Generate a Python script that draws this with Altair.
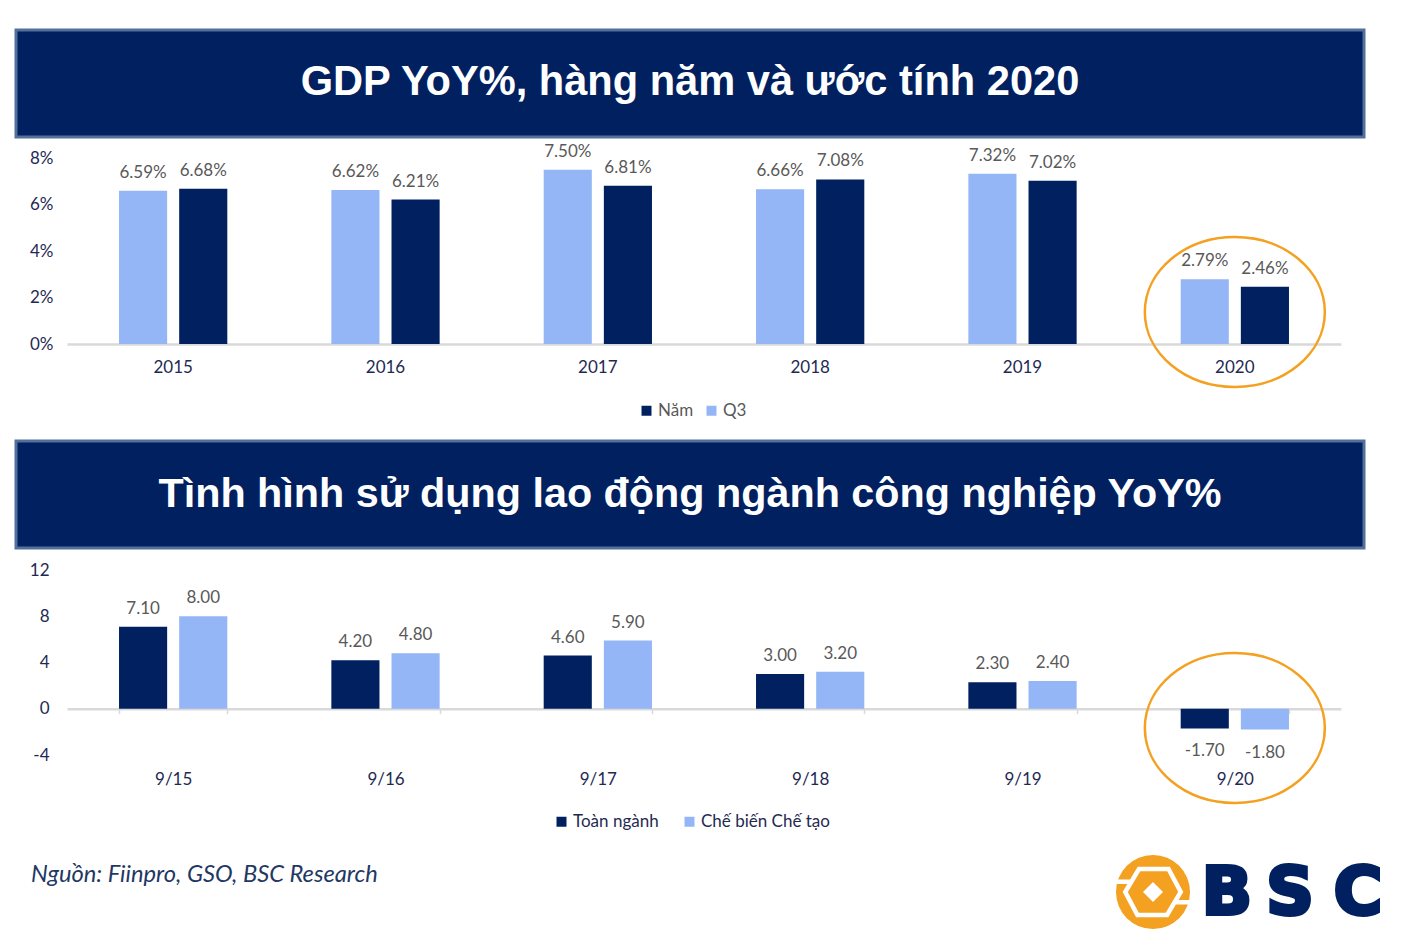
import altair as alt
import pandas as pd

# ---------------- data ----------------
years = ["2015", "2016", "2017", "2018", "2019", "2020"]
gdp_q3 = [6.59, 6.62, 7.50, 6.66, 7.32, 2.79]
gdp_nam = [6.68, 6.21, 6.81, 7.08, 7.02, 2.46]
gdp_legend = ["Năm", "Q3"]
gdp_order = ["Q3", "Năm"]
gdp_ticks = [0, 2, 4, 6, 8]

periods = ["9/15", "9/16", "9/17", "9/18", "9/19", "9/20"]
lab_toan = [7.10, 4.20, 4.60, 3.00, 2.30, -1.70]
lab_chebien = [8.00, 4.80, 5.90, 3.20, 2.40, -1.80]
lab_legend = ["Toàn ngành", "Chế biến Chế tạo"]
lab_ticks = [-4, 0, 4, 8, 12]

title1 = "GDP YoY%, hàng năm và ước tính 2020"
title2 = "Tình hình sử dụng lao động ngành công nghiệp YoY%"
source = "Nguồn: Fiinpro, GSO, BSC Research"
logo_letters = ["B", "S", "C"]

# ---------------- style ----------------
DARK = "#002060"
LIGHT = "#95B6F6"
NAVY_TXT = "#1F2A52"
GREY_TXT = "#595959"
AXIS_GREY = "#D9D9D9"
ORANGE = "#F4A020"
BANNER = "#002060"
BANNER_EDGE = "#52709A"
FONT = "Lato"
TFONT = "Liberation Sans"
FS = 17
W = 1274

ELLIPSE = ("M 1 0 C 1 0.46 0.5523 0.833 0 0.833 C -0.5523 0.833 -1 0.46 -1 0 "
           "C -1 -0.46 -0.5523 -0.833 0 -0.833 C 0.5523 -0.833 1 -0.46 1 0 Z")
HEX = ("M -0.75 0 L -0.38 -0.62 L 0.42 -0.62 L 0.75 0 L 0.38 0.62 L -0.42 0.62 Z "
       "M -1 -0.28 L -0.6 -0.28 M 0.6 0.28 L 1 0.28")

gdp = pd.DataFrame({
    "year": years * 2,
    "series": ["Q3"] * len(years) + ["Năm"] * len(years),
    "value": gdp_q3 + gdp_nam,
})
gdp["label"] = gdp["value"].map(lambda v: f"{v:.2f}%")

lab = pd.DataFrame({
    "period": periods * 2,
    "sector": [lab_legend[0]] * len(periods) + [lab_legend[1]] * len(periods),
    "value": lab_toan + lab_chebien,
})
lab["label"] = lab["value"].map(lambda v: f"{v:.2f}")

one = pd.DataFrame({"k": [0]})


def banner(text, top, height, panel_h, fsize, shift):
    rect = alt.Chart(one).mark_rect(
        fill=BANNER, stroke=BANNER_EDGE, strokeWidth=3
    ).encode(
        x=alt.value(-51), x2=alt.value(1297),
        y=alt.value(top), y2=alt.value(top + height),
    )
    txt = alt.Chart(one).mark_text(
        text=text, font=TFONT, fontWeight="bold", fontSize=fsize, color="white",
        align="center", baseline="middle",
    ).encode(x=alt.value(623), y=alt.value(top + height / 2 + shift))
    return alt.layer(rect, txt).properties(width=W, height=panel_h)


# ---------------- chart 1: GDP ----------------
x1 = alt.X("year:N", sort=years,
           scale=alt.Scale(paddingInner=0.49, paddingOuter=0.245),
           axis=alt.Axis(title=None, labelAngle=0, domainColor=AXIS_GREY, domainWidth=2.5,
                         ticks=False, tickSize=0, labelPadding=15, labelFontSize=FS,
                         labelColor=NAVY_TXT, labelFont=FONT, grid=False))
xo1 = alt.XOffset("series:N", sort=gdp_order,
                  scale=alt.Scale(paddingInner=0.2, paddingOuter=0))
y1 = alt.Y("value:Q", scale=alt.Scale(domain=[0, 8]),
           axis=alt.Axis(title=None, values=gdp_ticks, labelExpr="datum.value + '%'",
                         domain=False, ticks=False, tickSize=0, grid=False, labelPadding=14,
                         labelFontSize=FS, labelColor=NAVY_TXT, labelFont=FONT))
c1 = alt.Color("series:N",
               scale=alt.Scale(domain=gdp_legend, range=[DARK, LIGHT]),
               legend=alt.Legend(title=None, orient="none", legendX=571, legendY=244,
                                 direction="horizontal", symbolType="square", symbolSize=100,
                                 symbolStrokeWidth=0, labelFontSize=FS, labelColor=GREY_TXT,
                                 labelFont=FONT, columnPadding=9, padding=0, labelOffset=3))

bars1 = alt.Chart(gdp).mark_bar().encode(x=x1, xOffset=xo1, y=y1, color=c1)
text1 = alt.Chart(gdp).mark_text(
    baseline="alphabetic", dy=-13, fontSize=FS, font=FONT, color=GREY_TXT
).encode(x=x1, xOffset=xo1, y=y1, text="label:N")
ell1 = alt.Chart(pd.DataFrame({"year": [years[-1]]})).mark_point(
    shape=ELLIPSE, size=180 * 180, filled=False, color=ORANGE, strokeWidth=2.5, opacity=1
).encode(x=x1, y=alt.value(154))
chart1 = alt.layer(bars1, text1, ell1).properties(width=W, height=186)

# ---------------- chart 2: labour ----------------
x2 = alt.X("period:N", sort=periods,
           scale=alt.Scale(paddingInner=0.49, paddingOuter=0.245),
           axis=alt.Axis(title=None, labelAngle=0, domainColor=AXIS_GREY, domainWidth=2.5,
                         ticks=True, tickBand="extent", tickSize=5, tickColor=AXIS_GREY,
                         tickWidth=1.5, offset=-46.25, labelPadding=58, labelFontSize=FS,
                         labelColor=NAVY_TXT, labelFont=FONT, grid=False))
xo2 = alt.XOffset("sector:N", sort=lab_legend,
                  scale=alt.Scale(paddingInner=0.2, paddingOuter=0))
y2 = alt.Y("value:Q", scale=alt.Scale(domain=[-4, 12]),
           axis=alt.Axis(title=None, values=lab_ticks, labelExpr="'' + datum.value",
                         domain=False, ticks=False, tickSize=0,
                         grid=False, labelPadding=18, labelFontSize=FS,
                         labelColor=NAVY_TXT, labelFont=FONT))
c2 = alt.Color("sector:N",
               scale=alt.Scale(domain=lab_legend, range=[DARK, LIGHT]),
               legend=alt.Legend(title=None, orient="none", legendX=486, legendY=243,
                                 direction="horizontal", symbolType="square", symbolSize=100,
                                 symbolStrokeWidth=0, labelFontSize=FS, labelColor=NAVY_TXT,
                                 labelFont=FONT, columnPadding=22, padding=0, labelOffset=3))

bars2 = alt.Chart(lab).mark_bar().encode(x=x2, xOffset=xo2, y=y2, color=c2)
text2p = alt.Chart(lab).transform_filter("datum.value >= 0").mark_text(
    baseline="alphabetic", dy=-13, fontSize=FS, font=FONT, color=GREY_TXT
).encode(x=x2, xOffset=xo2, y=y2, text="label:N")
text2n = alt.Chart(lab).transform_filter("datum.value < 0").mark_text(
    baseline="top", dy=15, fontSize=FS, font=FONT, color=GREY_TXT
).encode(x=x2, xOffset=xo2, y=y2, text="label:N")
ell2 = alt.Chart(pd.DataFrame({"period": [periods[-1]]})).mark_point(
    shape=ELLIPSE, size=180 * 180, filled=False, color=ORANGE, strokeWidth=2.5, opacity=1
).encode(x=x2, y=alt.value(158))
chart2 = alt.layer(bars2, text2p, text2n, ell2).properties(width=W, height=185)

# ---------------- footer ----------------
src = alt.Chart(one).mark_text(
    text=source, font=FONT, fontStyle="italic", fontSize=23.7, color="#1F3864",
    align="left", baseline="middle",
).encode(x=alt.value(-36), y=alt.value(120))
circ = alt.Chart(one).mark_point(
    shape="circle", size=74 * 74, filled=True, color=ORANGE, opacity=1
).encode(x=alt.value(1086), y=alt.value(137))
ring = alt.Chart(one).mark_point(
    shape=HEX, size=74 * 74, filled=False, color="white", strokeWidth=4.5, opacity=1
).encode(x=alt.value(1086), y=alt.value(137))
core = alt.Chart(one).mark_point(
    shape="diamond", size=20 * 20, filled=True, color="white", opacity=1
).encode(x=alt.value(1086), y=alt.value(137))
logo_df = pd.DataFrame({"letter": logo_letters, "px": [1160, 1223, 1291]})
letters = alt.Chart(logo_df).mark_text(
    font="DejaVu Sans", fontWeight="bold", fontSize=66, color=DARK,
    stroke=DARK, strokeWidth=4, align="center", baseline="alphabetic",
).encode(x=alt.X("px:Q", scale=None), y=alt.value(159), text="letter:N")
footer = alt.layer(src, circ, ring, core, letters).properties(width=W, height=180)

# ---------------- assemble ----------------
top_banner = banner(title1, 0, 107, 128, 41.6, -0.5)
mid_banner = banner(title2, 97, 107, 226, 41.3, 0.5)

chart = alt.vconcat(
    top_banner, chart1, mid_banner, chart2, footer,
    spacing=0, bounds="flush",
).resolve_scale(
    x="independent", y="independent", color="independent", xOffset="independent"
).properties(
    padding={"left": 6, "top": 20, "right": 10, "bottom": 5},
    background="white",
).configure_view(stroke=None)

chart.save("out.html", embed_options={"renderer": "svg", "actions": False})
